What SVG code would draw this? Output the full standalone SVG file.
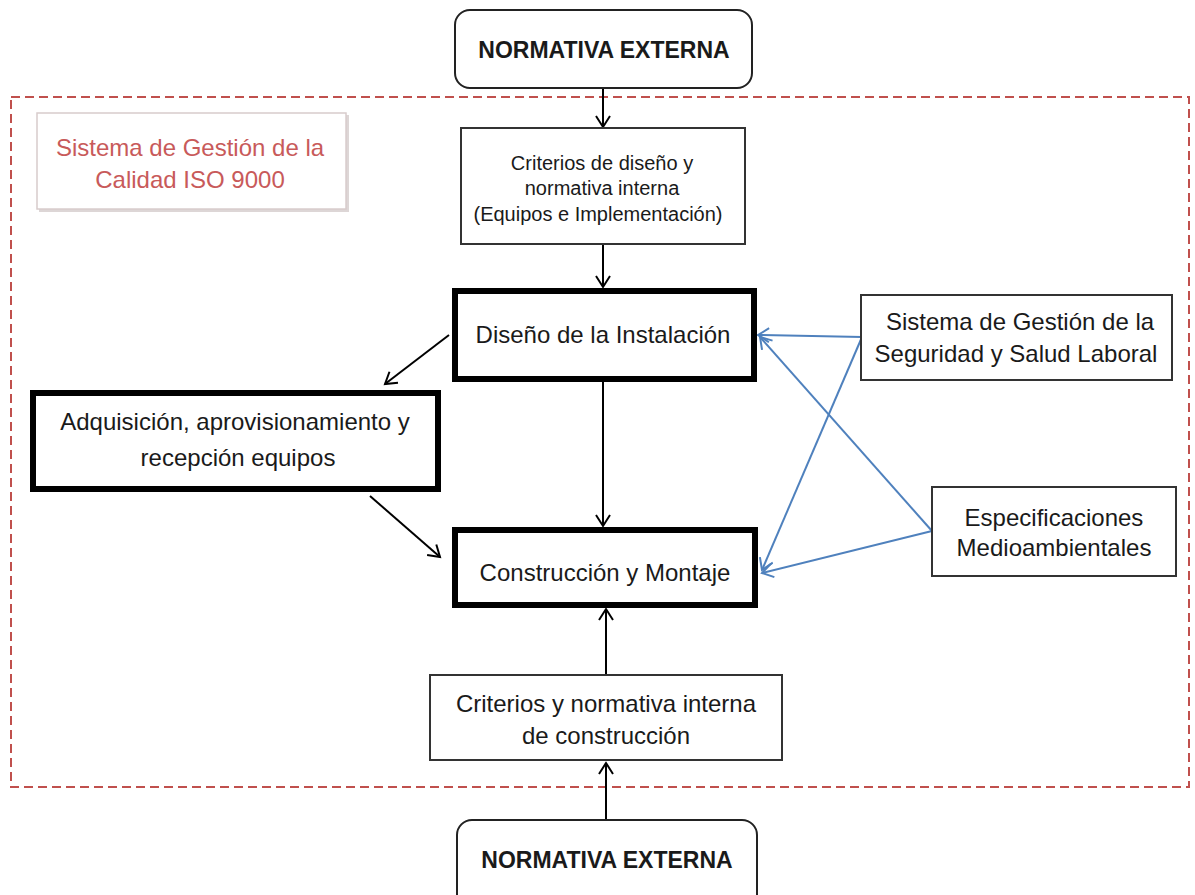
<svg xmlns="http://www.w3.org/2000/svg" width="1195" height="895" viewBox="0 0 1195 895">
<style>
text{font-family:"Liberation Sans",Arial,sans-serif;fill:#1a1a1a;text-anchor:middle}
.thin{fill:#fff;stroke:#333;stroke-width:2}
.thick{fill:#fff;stroke:#000;stroke-width:6}
.round{fill:#fff;stroke:#222;stroke-width:2}
.bk{stroke:#000;stroke-width:2;fill:none}
.bl{stroke:#4f81bd;stroke-width:2;fill:none}
.t20{font-size:24px}
.t16{font-size:20px}
.b{font-size:23px;font-weight:bold}
.leg{font-size:24px;fill:#c85a5a}
</style>
<defs>
<marker id="ak" markerUnits="userSpaceOnUse" markerWidth="16" markerHeight="18" refX="12" refY="8" orient="auto">
<path d="M1,1 L12,8 L1,15" fill="none" stroke="#000" stroke-width="2"/>
</marker>
<marker id="ab" markerUnits="userSpaceOnUse" markerWidth="16" markerHeight="18" refX="12" refY="8" orient="auto">
<path d="M1,1 L12,8 L1,15" fill="none" stroke="#4f81bd" stroke-width="2"/>
</marker>
</defs>
<rect width="1195" height="895" fill="#fff"/>
<g id="frame">
<rect x="11" y="97" width="1178" height="690" fill="none" stroke="#c0504d" stroke-width="2" stroke-dasharray="9,5"/>
</g>
<g id="legend">
<rect x="39" y="115" width="310" height="97" fill="#ddd6d6"/>
<rect x="37" y="113" width="309" height="96" fill="#fff" stroke="#d8cccc" stroke-width="1.5"/>
<text class="leg" x="190" y="156">Sistema de Gestión de la</text>
<text class="leg" x="190" y="188">Calidad ISO 9000</text>
</g>
<g id="connectors">
<line class="bk" x1="603" y1="88" x2="603" y2="127" marker-end="url(#ak)"/>
<line class="bk" x1="603" y1="244" x2="603" y2="287" marker-end="url(#ak)"/>
<line class="bk" x1="449" y1="335" x2="385" y2="384" marker-end="url(#ak)"/>
<line class="bk" x1="603" y1="382" x2="603" y2="526" marker-end="url(#ak)"/>
<line class="bk" x1="370" y1="496" x2="440" y2="557" marker-end="url(#ak)"/>
<line class="bk" x1="606" y1="675" x2="606" y2="609" marker-end="url(#ak)"/>
<line class="bk" x1="606" y1="820" x2="606" y2="763" marker-end="url(#ak)"/>
<line class="bl" x1="862" y1="337" x2="758" y2="335" marker-end="url(#ab)"/>
<line class="bl" x1="862" y1="337" x2="762" y2="570" marker-end="url(#ab)"/>
<line class="bl" x1="932" y1="531" x2="760" y2="337" marker-end="url(#ab)"/>
<line class="bl" x1="932" y1="531" x2="762" y2="573" marker-end="url(#ab)"/>
</g>
<g id="ext-top">
<rect class="round" x="455" y="10" width="297" height="78" rx="15"/>
<text class="b" x="604" y="58">NORMATIVA EXTERNA</text>
</g>
<g id="criterios-diseno">
<rect class="thin" x="461" y="128" width="284" height="116"/>
<text class="t16" x="602" y="170">Criterios de diseño y</text>
<text class="t16" x="602" y="195">normativa interna</text>
<text class="t16" x="598" y="221">(Equipos e Implementación)</text>
</g>
<g id="diseno">
<rect class="thick" x="455" y="291" width="299" height="88"/>
<text class="t20" x="603" y="343">Diseño de la Instalación</text>
</g>
<g id="adquisicion">
<rect class="thick" x="33" y="393" width="405" height="96"/>
<text class="t20" x="235" y="430">Adquisición, aprovisionamiento y</text>
<text class="t20" x="238" y="466">recepción equipos</text>
</g>
<g id="construccion">
<rect class="thick" x="455" y="530" width="300" height="75"/>
<text class="t20" x="605" y="581">Construcción y Montaje</text>
</g>
<g id="seguridad">
<rect class="thin" x="861" y="295" width="311" height="85"/>
<text class="t20" x="1020" y="330">Sistema de Gestión de la</text>
<text class="t20" x="1016" y="362">Seguridad y Salud Laboral</text>
</g>
<g id="medioambiente">
<rect class="thin" x="932" y="487" width="244" height="89"/>
<text class="t20" x="1054" y="526">Especificaciones</text>
<text class="t20" x="1054" y="556">Medioambientales</text>
</g>
<g id="criterios-construccion">
<rect class="thin" x="430" y="675" width="352" height="85"/>
<text class="t20" x="606" y="712">Criterios y normativa interna</text>
<text class="t20" x="606" y="744">de construcción</text>
</g>
<g id="ext-bottom">
<rect class="round" x="457" y="820" width="300" height="90" rx="15"/>
<text class="b" x="607" y="868">NORMATIVA EXTERNA</text>
</g>
</svg>
